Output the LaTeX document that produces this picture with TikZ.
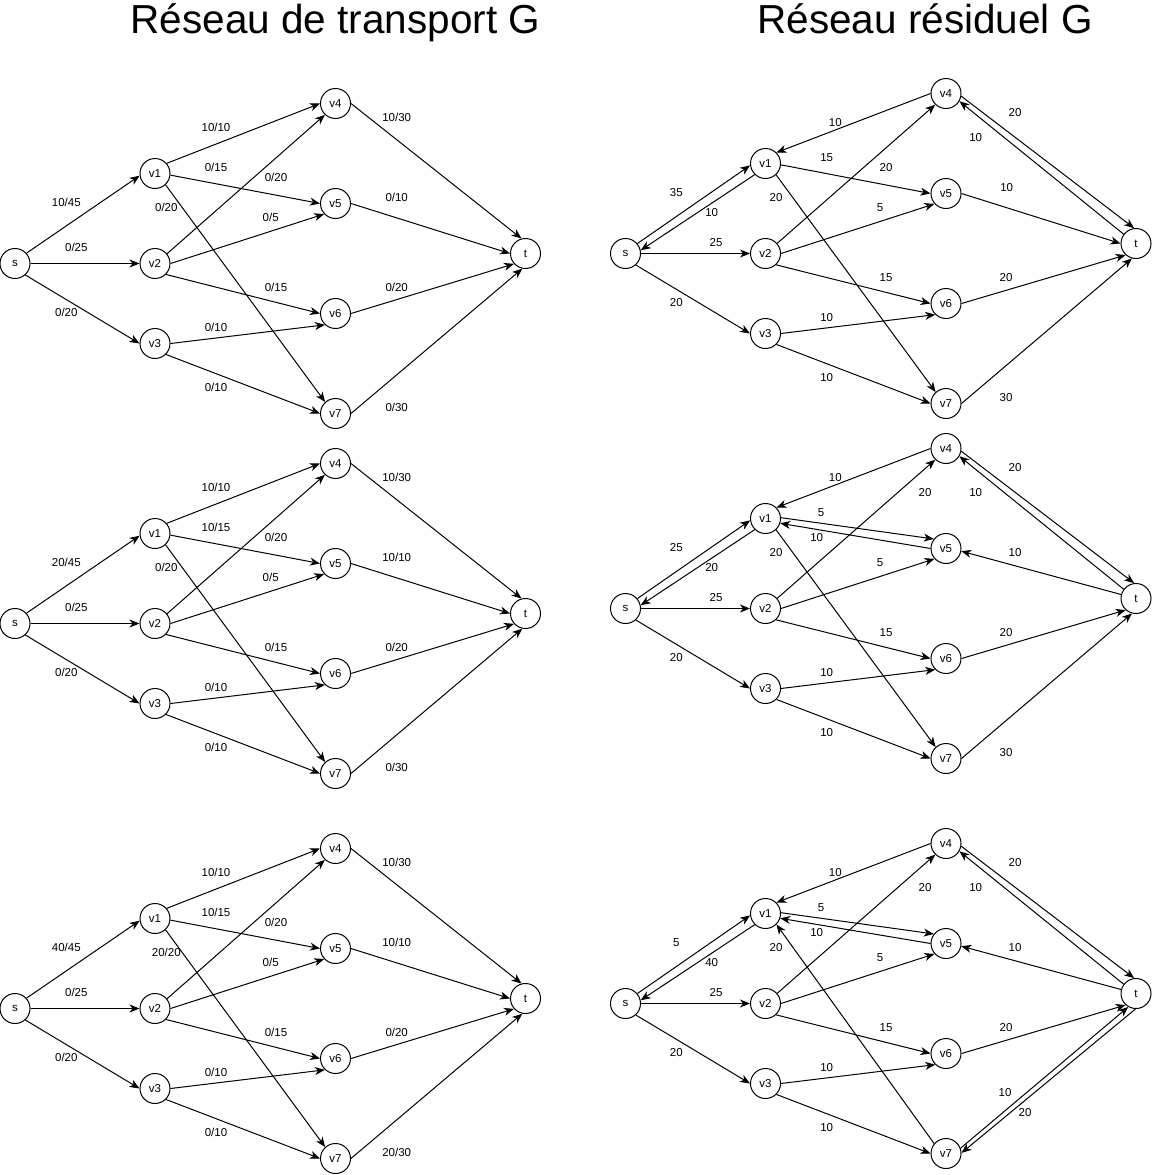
\documentclass[tikz,border=0pt]{standalone}
\usepackage{fontspec}
\setmainfont{Liberation Sans}
\usetikzlibrary{arrows.meta}

\tikzset{
  vertex/.style={circle, draw, line width=1pt, minimum size=30pt, inner sep=0pt, font=\fontsize{11.5}{13}\selectfont},
  flow/.style={line width=1pt, -{Stealth[length=10pt,width=8pt,inset=3pt]}},
  lbl/.style={inner sep=0pt, font=\fontsize{11.5}{13}\selectfont},
  heading/.style={anchor=base, inner sep=0pt, font=\fontsize{40.5}{48}\selectfont},
}

% the nine vertices of one network
\newcommand{\vertices}{%
  \node[vertex] (s) at (15,263.5) {s};
  \node[vertex] (v1) at (155,173.5) {v1};
  \node[vertex] (v2) at (155,263.5) {v2};
  \node[vertex] (v3) at (155,343.5) {v3};
  \node[vertex] (v4) at (335.5,103.5) {v4};
  \node[vertex] (v5) at (335.5,203.5) {v5};
  \node[vertex] (v6) at (335.5,313.5) {v6};
  \node[vertex] (v7) at (335.5,413.5) {v7};
  \node[vertex] (t) at (525.5,253.5) {t};
}

% transport network: #1 s-v1, #2 v1-v5, #3 v1-v7, #4 v5-t, #5 v7-t
\newcommand{\transport}[5]{%
  \vertices
  %Straight Lines
  \draw[flow] (s.42) -- (v1.188);
  \draw[flow] (s) -- (v2);
  \draw[flow] (s.312) -- (v3.180);
  \draw[flow] (v1.41) -- (v4.180);
  \draw[flow] (v1.354) -- (v5.180);
  \draw[flow] (v1.313) -- (v7.132);
  \draw[flow] (v2.39) -- (v4.227);
  \draw[flow] (v2.0) -- (v5.223);
  \draw[flow] (v2.315) -- (v6.180);
  \draw[flow] (v3.0) -- (v6.227);
  \draw[flow] (v3.315) -- (v7.180);
  \draw[flow] (v4.0) -- (t.105);
  \draw[flow] (v5.0) -- (t.180);
  \draw[flow] (v6.0) -- (t.222);
  \draw[flow] (v7.0) -- (t.258);
  % Text Node
  \node[lbl] (l-s-v1) at (66.3,202.7) {#1};
  \node[lbl] (l-s-v2) at (76.3,247.7) {0/25};
  \node[lbl] (l-s-v3) at (66.3,312.7) {0/20};
  \node[lbl] (l-v1-v4) at (216,127.7) {10/10};
  \node[lbl] (l-v1-v5) at (216,167.7) {#2};
  \node[lbl] (l-v1-v7) at (166.3,207.7) {#3};
  \node[lbl] (l-v2-v4) at (276,177.7) {0/20};
  \node[lbl] (l-v2-v5) at (270.7,217.3) {0/5};
  \node[lbl] (l-v2-v6) at (276,287.3) {0/15};
  \node[lbl] (l-v3-v6) at (216,327.7) {0/10};
  \node[lbl] (l-v3-v7) at (216,387.7) {0/10};
  \node[lbl] (l-v4-t) at (396.7,117.7) {10/30};
  \node[lbl] (l-v5-t) at (396.7,197.7) {#4};
  \node[lbl] (l-v6-t) at (396.7,287.7) {0/20};
  \node[lbl] (l-v7-t) at (396.7,407.7) {#5};
}

% residual network, common part: #1 s-v1, #2 v1-s
\newcommand{\residual}[2]{%
  \vertices
  %Straight Lines
  \draw[flow] (s.40) -- (v1.187);
  \draw[flow] (v1.226) -- (s.12);
  \draw[flow] (s) -- (v2);
  \draw[flow] (s.312) -- (v3.180);
  \draw[flow] (v4.180) -- (v1.45);
  \draw[flow] (v2.41) -- (v4.226);
  \draw[flow] (v2.0) -- (v5.222);
  \draw[flow] (v2.313) -- (v6.180);
  \draw[flow] (v3.0) -- (v6.226);
  \draw[flow] (v3.315) -- (v7.180);
  \draw[flow] (v4.350) -- (t.97);
  \draw[flow] (t.143) -- (v4.330);
  \draw[flow] (v6.0) -- (t.228);
  % Text Node
  \node[lbl] (l-s-v1) at (65.8,202.7) {#1};
  \node[lbl] (l-v1-s) at (101.2,222.7) {#2};
  \node[lbl] (l-s-v2) at (105.5,252.7) {25};
  \node[lbl] (l-s-v3) at (65.8,312.7) {20};
  \node[lbl] (l-v4-v1) at (224.8,132.5) {10};
  \node[lbl] (l-v2-v5) at (269.5,217.3) {5};
  \node[lbl] (l-v2-v6) at (275.5,287.7) {15};
  \node[lbl] (l-v3-v6) at (216.2,328) {10};
  \node[lbl] (l-v3-v7) at (216.2,388) {10};
  \node[lbl] (l-v4-t) at (404.5,122.5) {20};
  \node[lbl] (l-t-v4) at (365.2,148) {10};
  \node[lbl] (l-v6-t) at (395.5,287.7) {20};
}

\begin{document}
\begin{tikzpicture}[x=1pt,y=1pt,yscale=-1]
\useasboundingbox (0,0) rectangle (1152,1175);

% Text Node
\node[heading] (title-g) at (335.5,33) {Réseau de transport G};
% Text Node
\node[heading] (title-gf) at (925,33) {Réseau résiduel G};

%% transport networks
\begin{scope}[name prefix=a-]
  \transport{10/45}{0/15}{0/20}{0/10}{0/30}
\end{scope}
\begin{scope}[shift={(0,360)}, name prefix=b-]
  \transport{20/45}{10/15}{0/20}{10/10}{0/30}
\end{scope}
\begin{scope}[shift={(0,745)}, name prefix=c-]
  \transport{40/45}{10/15}{20/20}{10/10}{20/30}
\end{scope}

%% residual networks
\begin{scope}[shift={(610.5,-10)}, name prefix=d-]
  \residual{35}{10}
  \draw[flow] (v1.355) -- (v5.180);
  \draw[flow] (v1.313) -- (v7.132);
  \draw[flow] (v5.0) -- (t.180);
  \draw[flow] (v7.0) -- (t.255);
  \node[lbl] (l-v1-v5) at (216.2,167.7) {15};
  \node[lbl] (l-v1-v7) at (165.5,207.7) {20};
  \node[lbl] (l-v2-v4) at (275.5,177.7) {20};
  \node[lbl] (l-v5-t) at (396.2,197.7) {10};
  \node[lbl] (l-v7-t) at (395.5,407.7) {30};
\end{scope}

\begin{scope}[shift={(610.5,345)}, name prefix=e-]
  \residual{25}{20}
  \draw[flow] (v1.3) -- (v5.142);
  \draw[flow] (v5.180) -- (v1.342);
  \draw[flow] (v1.313) -- (v7.132);
  \draw[flow] (t.165) -- (v5.350);
  \draw[flow] (v7.0) -- (t.255);
  \node[lbl] (l-v1-v5) at (210.5,167.7) {5};
  \node[lbl] (l-v5-v1) at (206.2,192.7) {10};
  \node[lbl] (l-v1-v7) at (165.5,207.7) {20};
  \node[lbl] (l-v2-v4) at (314.5,147.7) {20};
  \node[lbl] (l-t-v5) at (404.5,207.7) {10};
  \node[lbl] (l-v7-t) at (395.5,407.7) {30};
\end{scope}

\begin{scope}[shift={(610.5,740)}, name prefix=f-]
  \residual{5}{40}
  \draw[flow] (v1.3) -- (v5.142);
  \draw[flow] (v5.180) -- (v1.342);
  \draw[flow] (v7.140) -- (v1.315);
  \draw[flow] (t.165) -- (v5.350);
  \draw[flow] (v7.20) -- (t.240);
  \draw[flow] (t.268) -- (v7.2);
  \node[lbl] (l-v1-v5) at (210.5,167.7) {5};
  \node[lbl] (l-v5-v1) at (206.2,192.7) {10};
  \node[lbl] (l-v7-v1) at (165.5,208) {20};
  \node[lbl] (l-v2-v4) at (314.5,147.7) {20};
  \node[lbl] (l-t-v5) at (404.5,207.7) {10};
  \node[lbl] (l-v7-t) at (394.5,353) {10};
  \node[lbl] (l-t-v7) at (414.5,373) {20};
\end{scope}

\end{tikzpicture}
\end{document}
